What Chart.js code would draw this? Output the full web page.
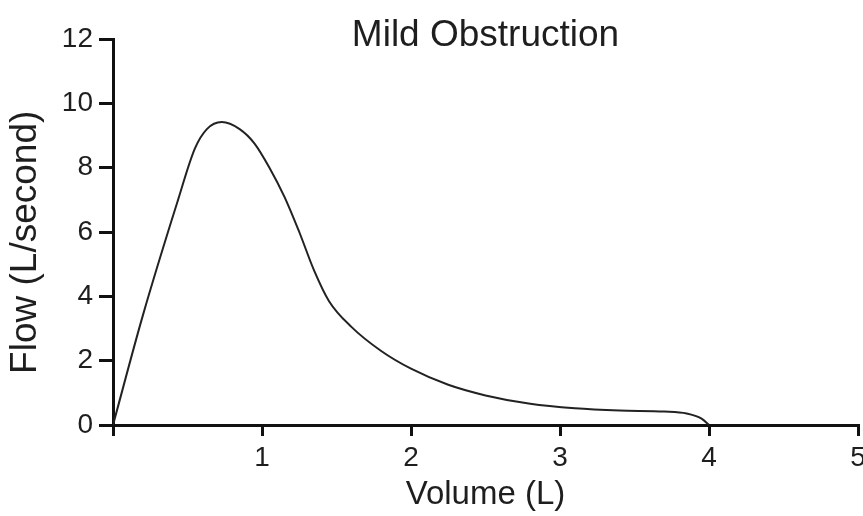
<!DOCTYPE html>
<html>
<head>
<meta charset="utf-8">
<script src="https://cdn.jsdelivr.net/npm/chart.js@4"></script>
<style>
  html, body { margin: 0; padding: 0; background: #fff; overflow: hidden; }
  #wrap { width: 863px; height: 516px; position: relative; }
</style>
</head>
<body>
<div id="wrap"><canvas id="c" width="863" height="516"></canvas></div>
<script>
// Data
const volumeL = [0, 0.2, 0.43, 0.55, 0.63, 0.73, 0.85, 0.95, 1.05, 1.15, 1.25, 1.35, 1.45, 1.6, 1.8, 2.0, 2.25, 2.5, 2.8, 3.1, 3.4, 3.7, 3.85, 3.95, 4.0];
const flowLps = [0, 3.4, 6.9, 8.6, 9.2, 9.42, 9.2, 8.75, 8.0, 7.1, 6.0, 4.8, 3.85, 3.05, 2.3, 1.75, 1.25, 0.92, 0.66, 0.52, 0.45, 0.42, 0.36, 0.2, 0];
const xTicks = [0, 1, 2, 3, 4, 5];
const yTicks = [0, 2, 4, 6, 8, 10, 12];
const chartTitle = 'Mild Obstruction';
const xTitle = 'Volume (L)';
const yTitle = 'Flow (L/second)';

const FONT = "'Liberation Sans', Arial, Helvetica, sans-serif";
const INK = '#1e1e1e';

const points = volumeL.map((v, i) => ({ x: v, y: flowLps[i] }));

new Chart(document.getElementById('c'), {
  type: 'line',
  data: {
    datasets: [{
      data: points,
      borderColor: '#222',
      borderWidth: 2,
      pointRadius: 0,
      cubicInterpolationMode: 'monotone',
      fill: false
    }]
  },
  options: {
    responsive: false,
    animation: false,
    devicePixelRatio: 1,
    layout: { padding: { left: 0, right: 5, top: 0, bottom: 0 } },
    plugins: {
      legend: { display: false },
      tooltip: { enabled: false },
      title: {
        display: true,
        text: chartTitle,
        fullSize: false,
        color: INK,
        font: { family: FONT, size: 37, weight: 'normal', lineHeight: '6px' },
        padding: { top: 33, bottom: 0 }
      }
    },
    scales: {
      x: {
        type: 'linear',
        min: xTicks[0],
        max: xTicks[xTicks.length - 1],
        afterBuildTicks: s => { s.ticks = xTicks.map(v => ({ value: v })); },
        afterFit: s => { s.height = 91; s.paddingRight = 5; s.paddingLeft = 0; },
        border: { display: true, color: '#111', width: 3 },
        grid: { drawOnChartArea: false, drawTicks: true, tickLength: 11, tickWidth: 3, tickColor: '#111', lineWidth: 3, color: '#111' },
        ticks: {
          color: INK,
          padding: 5,
          maxRotation: 0,
          autoSkip: false,
          font: { family: FONT, size: 28 },
          callback: v => (v === 0 ? '' : String(v))
        },
        title: {
          display: true,
          text: xTitle,
          color: INK,
          font: { family: FONT, size: 33 },
          padding: { top: 4, bottom: 1 }
        }
      },
      y: {
        type: 'linear',
        min: yTicks[0],
        max: yTicks[yTicks.length - 1],
        afterBuildTicks: s => { s.ticks = yTicks.map(v => ({ value: v })); },
        afterFit: s => { s.width = 113; },
        border: { display: true, color: '#111', width: 3 },
        grid: { drawOnChartArea: false, drawTicks: true, tickLength: 14, tickWidth: 3, tickColor: '#111', lineWidth: 3, color: '#111' },
        ticks: {
          color: INK,
          padding: 6,
          font: { family: FONT, size: 28 },
          callback: v => String(v)
        },
        title: {
          display: true,
          text: yTitle + '\u00a0\u00a0',
          color: INK,
          font: { family: FONT, size: 37 },
          padding: { top: 4, bottom: 4 }
        }
      }
    }
  }
});
</script>
</body>
</html>
